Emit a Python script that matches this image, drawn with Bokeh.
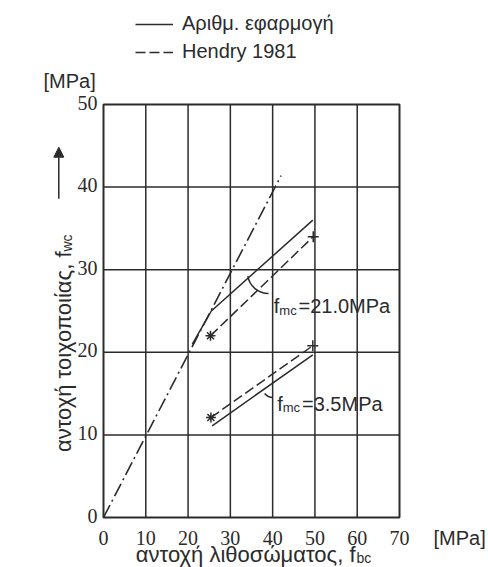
import math
from bokeh.plotting import figure
from bokeh.models import Range1d, Label, Arrow, NormalHead, Legend, LegendItem
from bokeh.embed import file_html
from bokeh.resources import INLINE

# ---- data ----
x_ticks = [0, 10, 20, 30, 40, 50, 60, 70]
y_ticks = [0, 10, 20, 30, 40, 50]

ref_x = [0, 42.0]            # dash-dot line f_wc = f_bc
ref_y = [0, 41.4]

num21_x = [21.0, 25.5, 49.5]  # numerical, f_mc = 21.0 MPa
num21_y = [21.0, 25.0, 36.0]
hen21_x = [25.3, 49.6]        # Hendry 1981, f_mc = 21.0 MPa
hen21_y = [22.0, 34.0]

num35_x = [25.7, 49.5]        # numerical, f_mc = 3.5 MPa
num35_y = [11.1, 19.7]
hen35_x = [25.4, 49.5]        # Hendry 1981, f_mc = 3.5 MPa
hen35_y = [12.1, 20.8]

legend_labels = ["Αριθμ. εφαρμογή", "Hendry 1981"]
fmc_labels = ["=21.0MPa", "=3.5MPa"]

FONT = "Liberation Sans"
INK = "#2b2b2b"
FS = "20px"
TFS = "22px"
SUB = "13px"
TSUB = "14px"

# ---- canvas / scale: the plotting frame covers the whole canvas so that
# texts and the legend outside the grid are not clipped ----
W, H = 488, 567
GRID_L, GRID_B = 103, 517         # grid origin in canvas pixels
SX = 296 / 70                      # px per x unit
SY = 413 / 50                      # px per y unit
x_range = Range1d(-GRID_L / SX, (W - GRID_L) / SX)
y_range = Range1d(-(H - GRID_B) / SY, GRID_B / SY)

p = figure(width=W, height=H, x_range=x_range, y_range=y_range,
           output_backend="svg", toolbar_location=None,
           min_border=0, x_axis_type=None, y_axis_type=None)
p.grid.visible = False
p.outline_line_color = None
p.background_fill_color = "white"
p.border_fill_color = "white"

def X(px):   # canvas pixel column -> x data
    return (px - GRID_L) / SX

def Y(py):   # canvas pixel row -> y data
    return (GRID_B - py) / SY

TICK_BASE = 537.5   # baseline row of the x tick labels

# ---- grid and its frame ----
xmin, xmax = x_ticks[0], x_ticks[-1]
ymin, ymax = y_ticks[0], y_ticks[-1]
inner_x = x_ticks[1:-1]
inner_y = y_ticks[1:-1]
p.segment(x0=inner_x, y0=[ymin] * len(inner_x), x1=inner_x, y1=[ymax] * len(inner_x),
          line_color=INK, line_width=1.5)
p.segment(x0=[xmin] * len(inner_y), y0=inner_y, x1=[xmax] * len(inner_y), y1=inner_y,
          line_color=INK, line_width=1.5)
p.quad(left=[xmin], right=[xmax], bottom=[ymin], top=[ymax], fill_color=None,
       line_color=INK, line_width=2)

# tick labels
p.text(x=x_ticks, y=[Y(TICK_BASE)] * len(x_ticks), text=[str(t) for t in x_ticks],
       text_align="center", text_baseline="alphabetic", text_font=FONT,
       text_font_size=FS, text_color=INK)
p.text(x=[xmin - 6 / SX] * len(y_ticks), y=[t + 2 / SY for t in y_ticks],
       text=[str(t) for t in y_ticks], text_align="right", text_baseline="middle",
       text_font=FONT, text_font_size=FS, text_color=INK)

# ---- curves ----
p.line(ref_x, ref_y, line_color=INK, line_width=1.6, line_dash="14 4 2 4")
r_num = p.line(num21_x, num21_y, line_color=INK, line_width=1.5)
r_hen = p.line(hen21_x, hen21_y, line_color=INK, line_width=1.5, line_dash="10 4")
p.line(num35_x, num35_y, line_color=INK, line_width=1.5)
p.line(hen35_x, hen35_y, line_color=INK, line_width=1.5, line_dash="10 4")
p.scatter([hen21_x[0], hen35_x[0]], [hen21_y[0], hen35_y[0]], marker="asterisk",
          size=10, line_color=INK, line_width=1.5)
p.scatter([hen21_x[-1], hen35_x[-1]], [hen21_y[-1], hen35_y[-1]], marker="cross",
          size=11, line_color=INK, line_width=1.5)

# arcs linking the pairs to their labels
p.arc(x=[X(268)], y=[Y(272)], radius=21, radius_units="screen",
      start_angle=math.radians(190), end_angle=math.radians(270), line_color=INK, line_width=1.5)
p.arc(x=[X(272.5)], y=[Y(386)], radius=11, radius_units="screen",
      start_angle=math.radians(220), end_angle=math.radians(270), line_color=INK, line_width=1.5)

def lab(px, py, text, size=FS, **kw):
    p.add_layout(Label(x=X(px), y=Y(py), text=text, text_font=FONT, text_font_size=size,
                       text_color=INK, text_baseline="alphabetic", **kw))

# f_mc labels
lab(273.3, 305.7, "f")
lab(278.8, 309.7, "mc", size=SUB)
lab(298.0, 305.7, fmc_labels[0])
lab(276.7, 403.3, "f")
lab(282.2, 407.3, "mc", size=SUB)
lab(301.5, 403.3, fmc_labels[1])

# unit labels
lab(43, 80, "[MPa]")
lab(433, TICK_BASE, "[MPa]")

# y title
lab(63.3, 251, "αντοχή τοιχοποιίας, f", size=TFS, angle=math.pi / 2, text_align="right")
lab(66.0, 251, "wc", size=TSUB, angle=math.pi / 2)

# x title
lab(355, 553.5, "αντοχή λιθοσώματος, f", size=TFS, text_align="right")
lab(356, 557, "bc", size=TSUB)

# legend at the top
legend = Legend(items=[LegendItem(label=legend_labels[0], renderers=[r_num]),
                       LegendItem(label=legend_labels[1], renderers=[r_hen])],
                location=(135, H - 63), orientation="vertical",
                glyph_width=38, glyph_height=20, label_height=20, label_standoff=9,
                spacing=5, padding=0, margin=0,
                border_line_color=None, background_fill_alpha=0,
                label_text_font=FONT, label_text_font_size=FS, label_text_color=INK)
p.add_layout(legend)

# arrow beside the y title
p.add_layout(Arrow(end=NormalHead(size=10, fill_color=INK, line_color=INK),
                   x_start=X(58.3), y_start=Y(198.3), x_end=X(58.3), y_end=Y(146.7),
                   line_color=INK, line_width=1.5))

open("out.html", "w").write(file_html(p, INLINE))
